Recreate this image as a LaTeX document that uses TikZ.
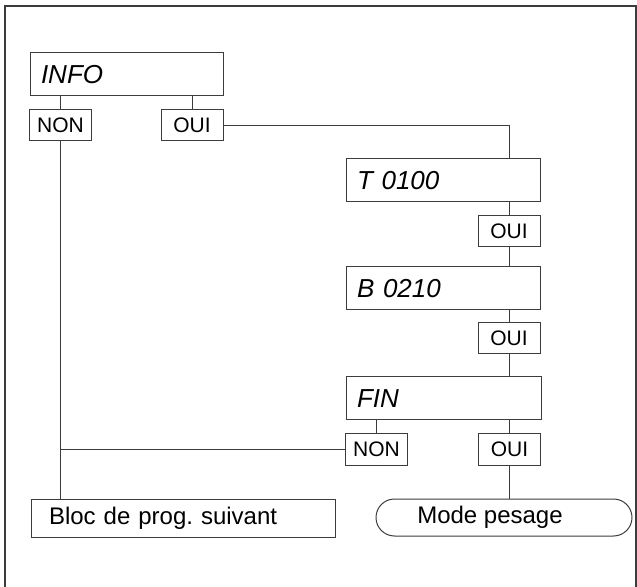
\documentclass[tikz,border=0pt]{standalone}
\usepackage{fontspec}
\setmainfont{Liberation Sans}
\usepackage{tikz}
\usetikzlibrary{shapes.misc, positioning, calc}
\frenchspacing
\definecolor{lineg}{RGB}{60, 60, 60}
\tikzstyle{param} = [rectangle, draw=lineg, line width=0.5pt, minimum height=21.5pt, inner xsep=5.5pt, align=left, font=\fontsize{13}{15}\selectfont\itshape]
\tikzstyle{answer} = [rectangle, draw=lineg, line width=0.5pt, minimum width=31pt, minimum height=15.5pt, inner sep=0pt, font=\fontsize{10.5}{12}\selectfont]
\tikzstyle{exitbox} = [rectangle, draw=lineg, line width=0.5pt, minimum height=19pt, inner xsep=9pt, align=left, font=\fontsize{12}{14}\selectfont]
\tikzstyle{link} = [draw=lineg, line width=0.5pt]

\begin{document}
\begin{tikzpicture}[x=0.5pt, y=-0.5pt]
    \useasboundingbox (0, 0) rectangle (637, 587);
    % Frame
    \draw[lineg, line width=0.6pt] (5, 587) -- (5, 6) -- (636, 6) -- (636, 587);

    % INFO block
    \node[param, text width=85.5pt] (info) at (126.5, 74.5) {INFO};
    \node[answer] (non1) at (60.5, 125.5) {NON};
    \node[answer] (oui1) at (192, 125.5) {OUI};

    % Parameter blocks
    \node[param, text width=86pt] (t0100) at (443, 180.5) {T 0100};
    \node[answer] (oui2) at (509, 231.5) {OUI};
    \node[param, text width=86pt] (b0210) at (443, 288.5) {B 0210};
    \node[answer] (oui3) at (509, 338.5) {OUI};
    \node[param, text width=86.5pt] (fin) at (443.5, 398.5) {FIN};
    \node[answer] (non2) at (376.5, 449.5) {NON};
    \node[answer] (oui4) at (509.5, 449.5) {OUI};

    % Exits
    \node[exitbox, text width=134pt] (bloc) at (183, 518) {Bloc de prog. suivant};
    \node[rounded rectangle, draw=lineg, line width=0.5pt, minimum width=128pt, minimum height=18.5pt, inner sep=0pt, font=\fontsize{12}{14}\selectfont] (pesage) at (504, 517.5) {\hspace{-14pt}Mode pesage};

    % Connections
    \draw[link] (info.south -| non1) -- (non1.north);
    \draw[link] (info.south -| oui1) -- (oui1.north);
    \draw[link] (oui1.east) -| (t0100.north -| oui2);
    \draw[link] (t0100.south -| oui2) -- (oui2.north);
    \draw[link] (oui2.south) -- (b0210.north -| oui2);
    \draw[link] (b0210.south -| oui3) -- (oui3.north);
    \draw[link] (oui3.south) -- (fin.north -| oui3);
    \draw[link] (fin.south -| non2) -- (non2.north);
    \draw[link] (fin.south -| oui4) -- (oui4.north);
    \draw[link] (non1.south) -- (bloc.north -| non1);
    \draw[link] (non2.west) -- (non2.west -| non1);
    \draw[link] (oui4.south) -- (pesage.north -| oui4);
\end{tikzpicture}
\end{document}
